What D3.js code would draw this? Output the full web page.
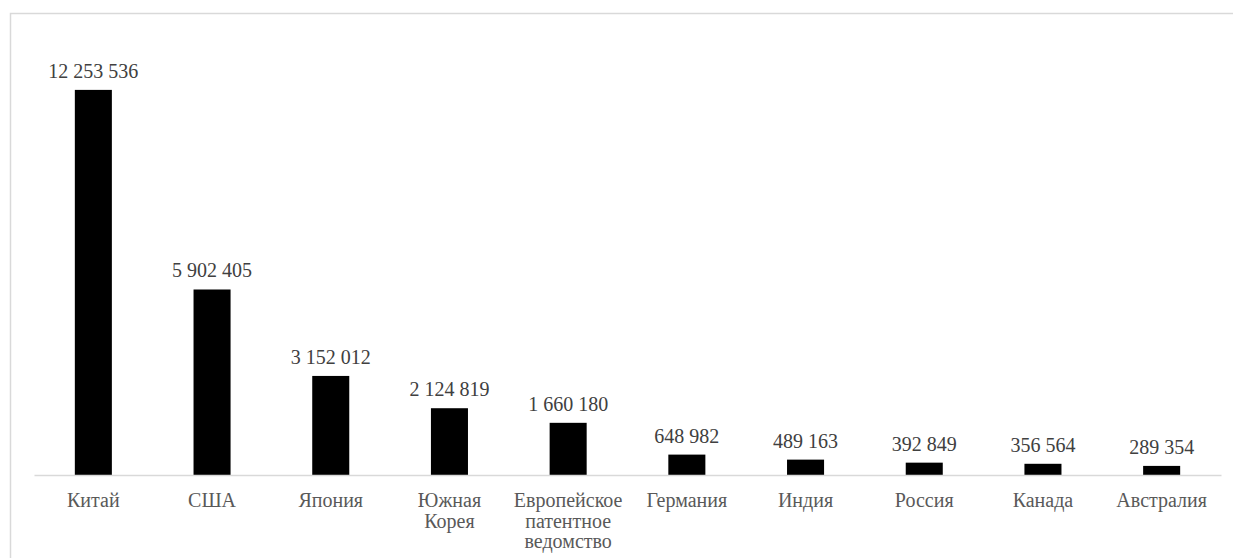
<!DOCTYPE html>
<html>
<head>
<meta charset="utf-8">
<script src="https://cdn.jsdelivr.net/npm/d3@7/dist/d3.min.js"></script>
<style>
  html, body { margin: 0; padding: 0; background: #fff; }
  svg { display: block; }
</style>
</head>
<body>
<svg id="chart" width="1233" height="558"></svg>
<script>
// Patent applications by office
const categories = [
  ["Китай"],
  ["США"],
  ["Япония"],
  ["Южная", "Корея"],
  ["Европейское", "патентное", "ведомство"],
  ["Германия"],
  ["Индия"],
  ["Россия"],
  ["Канада"],
  ["Австралия"]
];
const values = [12253536, 5902405, 3152012, 2124819, 1660180, 648982, 489163, 392849, 356564, 289354];
const yDomain = [0, 14000000];

const FONT = "Liberation Serif";
const svg = d3.select("#chart");
const W = 1233, H = 558;

// chart frame
svg.append("rect")
  .attr("x", 10.5).attr("y", 13.5)
  .attr("width", W + 10).attr("height", H + 10)
  .attr("fill", "none").attr("stroke", "#d9d9d9").attr("stroke-width", 1.5);

const plot = { left: 34, right: 1221, top: 35, bottom: 475 };

const keys = categories.map(c => c.join(" "));
const x = d3.scaleBand()
  .domain(keys)
  .range([plot.left, plot.right])
  .paddingInner(0.688)
  .paddingOuter(0.344);

const y = d3.scaleLinear().domain(yDomain).range([plot.bottom, plot.top]);

const data = keys.map((k, i) => ({ key: k, lines: categories[i], value: values[i] }));

// bars
svg.append("g").selectAll("rect")
  .data(data)
  .join("rect")
  .attr("x", d => x(d.key))
  .attr("width", x.bandwidth())
  .attr("y", d => y(d.value))
  .attr("height", d => y(0) - y(d.value))
  .attr("fill", "#000");

// category axis
const axis = svg.append("g")
  .attr("transform", `translate(0,${plot.bottom})`)
  .call(d3.axisBottom(x).tickSize(0).tickFormat(""));
axis.select(".domain").attr("stroke", "#d9d9d9").attr("stroke-width", 1.5);

// category labels (multi-line)
const fmt = v => d3.format(",")(v).replace(/,/g, " ");
const labels = svg.append("g").selectAll("text")
  .data(data)
  .join("text")
  .attr("x", d => x(d.key) + x.bandwidth() / 2)
  .attr("y", 507)
  .attr("text-anchor", "middle")
  .attr("font-family", FONT)
  .attr("font-size", 20)
  .attr("fill", "#595959");
labels.selectAll("tspan")
  .data(d => d.lines.map(l => ({ l, cx: x(d.key) + x.bandwidth() / 2 })))
  .join("tspan")
  .attr("x", t => t.cx)
  .attr("dy", (t, i) => i === 0 ? 0 : 20.5)
  .text(t => t.l);

// value labels
svg.append("g").selectAll("text")
  .data(data)
  .join("text")
  .attr("x", d => x(d.key) + x.bandwidth() / 2)
  .attr("y", d => y(d.value) - 12)
  .attr("text-anchor", "middle")
  .attr("font-family", FONT)
  .attr("font-size", 20)
  .attr("fill", "#404040")
  .text(d => fmt(d.value));
</script>
</body>
</html>
